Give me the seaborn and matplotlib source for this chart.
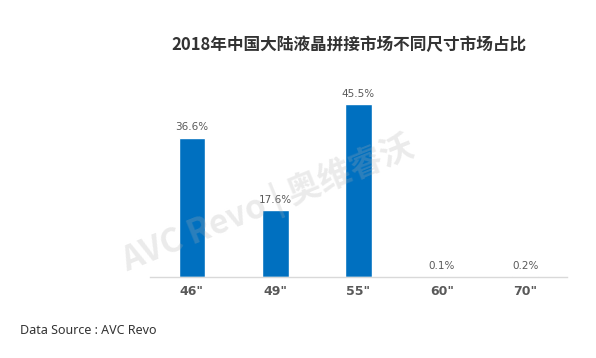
import matplotlib
matplotlib.use("Agg")
import matplotlib.pyplot as plt
import seaborn as sns
import pandas as pd

categories = ['46"', '49"', '55"', '60"', '70"']
shares = [36.6, 17.6, 45.5, 0.1, 0.2]
labels = ["36.6%", "17.6%", "45.5%", "0.1%", "0.2%"]

sns.set_theme(style="white")
plt.rcParams['font.family'] = ['Noto Sans CJK SC', 'DejaVu Sans']

df = pd.DataFrame({"size": categories, "share": shares})

fig = plt.figure(figsize=(5.96, 3.58), dpi=100)
ax = fig.add_axes([0.252, 0.226, 0.699, 0.531])
sns.barplot(data=df, x="size", y="share", color="#0070C0", saturation=1,
            width=0.32, ax=ax)
ax.set_xlim(-0.5, 4.5)
ax.set_ylim(0, 50)
for p, lab in zip(ax.patches, labels):
    ax.annotate(lab, (p.get_x() + p.get_width() / 2, p.get_height()),
                xytext=(0, 4), textcoords="offset points", ha="center", va="bottom",
                fontsize=7.5, color="#595959", family=["DejaVu Sans"])
ax.set_xlabel("")
ax.set_ylabel("")
ax.set_yticks([])
for s in ["top", "right", "left"]:
    ax.spines[s].set_visible(False)
ax.spines["bottom"].set_color("#d9d9d9")
ax.spines["bottom"].set_linewidth(1)
ax.tick_params(axis="x", length=0, pad=6)
for t in ax.get_xticklabels():
    t.set_fontsize(9)
    t.set_fontweight("bold")
    t.set_color("#595959")
    t.set_family(["DejaVu Sans"])

fig.text(0.585, 0.875, "2018年中国大陆液晶拼接市场不同尺寸市场占比", ha="center", va="center",
         fontsize=12, fontweight="bold", color="#333333")
fig.text(0.034, 0.078, "Data Source : AVC Revo", ha="left", va="center",
         fontsize=9, color="#333333", family=["Noto Sans", "DejaVu Sans"])
fig.text(0.45, 0.43, "AVC Revo | 奥维睿沃", ha="center", va="center", rotation=22,
         fontsize=24, fontweight="bold", color="#b0b0b0", alpha=0.25)

fig.savefig("out.png", dpi=100)
